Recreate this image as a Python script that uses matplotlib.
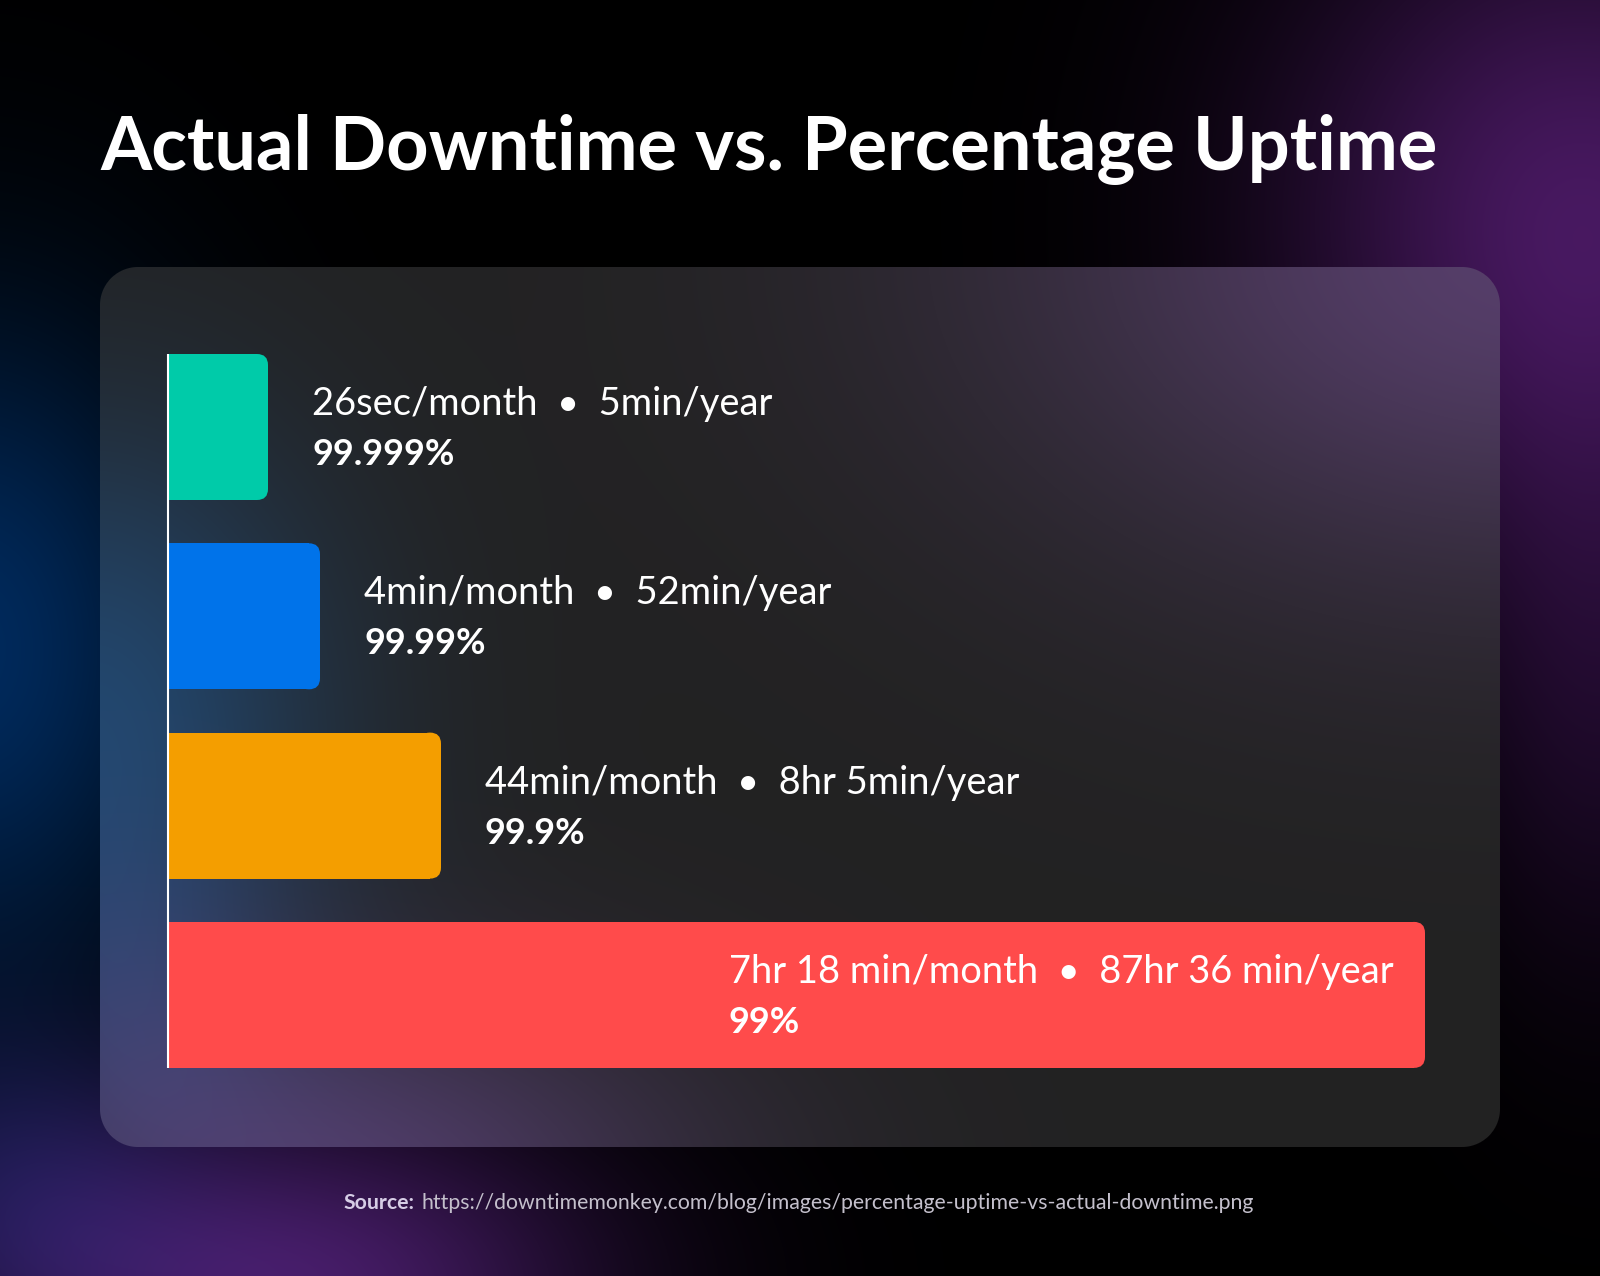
import numpy as np
import matplotlib
matplotlib.use("Agg")
import matplotlib.pyplot as plt
from matplotlib.patches import FancyBboxPatch

# ---------------- data ----------------
title = "Actual Downtime vs. Percentage Uptime"
uptime_labels = ["99.999%", "99.99%", "99.9%", "99%"]
downtime_labels = [
    "26sec/month  \u2022  5min/year",
    "4min/month  \u2022  52min/year",
    "44min/month  \u2022  8hr 5min/year",
    "7hr 18 min/month  \u2022  87hr 36 min/year",
]
bar_lengths = [99, 151, 272, 1256]          # visual bar lengths
bar_colors = ["#00CBA9", "#0073EA", "#F49E00", "#FF4B4B"]
label_inside = [False, False, False, True]
source_bold = "Source:"
source_url = "https://downtimemonkey.com/blog/images/percentage-uptime-vs-actual-downtime.png"

# ---------------- figure ----------------
W, H, DPI = 1600, 1276, 100
fig = plt.figure(figsize=(W / DPI, H / DPI), dpi=DPI)
fig.patch.set_facecolor("black")

# background + card image
yy, xx = np.mgrid[0:H, 0:W].astype(float)


def glow(cx, cy, rx, ry, color):
    d2 = ((xx - cx) / rx) ** 2 + ((yy - cy) / ry) ** 2
    return np.exp(-d2)[..., None] * (np.array(color, float) / 255.0)


bg = np.zeros((H, W, 3))
bg += glow(1580, 220, 300, 330, (70, 24, 94))
bg += glow(1600, 700, 150, 300, (25, 8, 35))
bg += glow(300, 1290, 300, 180, (70, 28, 102))
bg += glow(-30, 650, 230, 330, (0, 42, 92))
bg += glow(0, 1200, 200, 180, (18, 18, 55))
bg = np.clip(bg, 0, 1)

card = np.ones((H, W, 3)) * (34 / 255.0)
card += glow(1540, 250, 520, 330, (52, 28, 72))
card += glow(330, 1190, 360, 200, (46, 26, 70))
card += glow(90, 720, 240, 300, (0, 36, 74))
card += glow(120, 1000, 160, 180, (12, 12, 30))
card = np.clip(card, 0, 1)

cx0, cx1, cy0, cy1, cr = 100, 1500, 267, 1147, 38
ccx, ccy = (cx0 + cx1) / 2, (cy0 + cy1) / 2
hx, hy = (cx1 - cx0) / 2 - cr, (cy1 - cy0) / 2 - cr
qx = np.abs(xx + 0.5 - ccx) - hx
qy = np.abs(yy + 0.5 - ccy) - hy
sd = np.sqrt(np.maximum(qx, 0) ** 2 + np.maximum(qy, 0) ** 2) + np.minimum(np.maximum(qx, qy), 0) - cr
alpha = np.clip(0.5 - sd, 0, 1)[..., None]
img = bg * (1 - alpha) + card * alpha

ax_bg = fig.add_axes([0, 0, 1, 1])
ax_bg.imshow(img, extent=(0, W, H, 0), interpolation="bilinear")
ax_bg.set_xlim(0, W)
ax_bg.set_ylim(H, 0)
ax_bg.axis("off")

# ---------------- bar axes (1 data unit = 1 pixel) ----------------
AX_L, AX_T, AX_W, AX_H = 169, 340, 1331, 740
ax = fig.add_axes([AX_L / W, 1 - (AX_T + AX_H) / H, AX_W / W, AX_H / H])
ax.set_xlim(0, AX_W)
ax.set_ylim(AX_H, 0)
ax.axis("off")
ax.patch.set_alpha(0)

ypos = 87 + 189.3 * np.arange(len(bar_lengths))
bar_h = 146
r = 11
bars = ax.barh(ypos, bar_lengths, height=bar_h, color=bar_colors, linewidth=0, zorder=2)
for b, L, c in zip(bars, bar_lengths, bar_colors):
    b.set_width(L - r)
    y0 = b.get_y()
    ax.add_patch(FancyBboxPatch((L - 2 * r, y0), 2 * r, bar_h,
                                boxstyle=f"round,pad=0,rounding_size={r}",
                                facecolor=c, edgecolor="none", zorder=2))

ax.plot([-1.5, -1.5], [ypos[0] - bar_h / 2, ypos[-1] + bar_h / 2], color="white", lw=1.5,
        zorder=3, solid_capstyle="butt", clip_on=False)

renderer = fig.canvas.get_renderer()


def fit(t, target):
    w = t.get_window_extent(renderer=renderer).width
    t.set_fontsize(t.get_fontsize() * target / w)
    return t.get_fontsize()


# label sizes
probe = ax.text(0, 0, downtime_labels[0], fontsize=30, family="Lato")
fs1 = fit(probe, 461)
probe.remove()
probe = ax.text(0, 0, uptime_labels[0], fontsize=30, family="Lato", fontweight="bold")
fs2 = fit(probe, 142)
probe.remove()

for i, (L, y) in enumerate(zip(bar_lengths, ypos)):
    x = 560 if label_inside[i] else L + 44
    ax.text(x, y - 12, downtime_labels[i], fontsize=fs1, family="Lato", color="white",
            ha="left", va="baseline", zorder=4)
    ax.text(x, y + 38, uptime_labels[i], fontsize=fs2, family="Lato", fontweight="bold",
            color="white", ha="left", va="baseline", zorder=4)

# title
tt = fig.text(100 / W, 1 - 170 / H, title, fontsize=50, family="Lato", fontweight="bold",
              color="white", ha="left", va="baseline")
fit(tt, 1339)

# source
sb = fig.text(0, 0, source_bold, fontsize=14, family="Lato", fontweight="bold",
              color="#d6cde6", ha="left", va="baseline")
su = fig.text(0, 0, source_url, fontsize=14, family="Lato", color="#c4c0cc",
              ha="left", va="baseline")
w1 = sb.get_window_extent(renderer=renderer).width
w2 = su.get_window_extent(renderer=renderer).width
gap = 6
scale = 913 / (w1 + w2 + gap)
sb.set_fontsize(14 * scale)
su.set_fontsize(14 * scale)
w1 *= scale
w2 *= scale
gap *= scale
start = 800 - (w1 + gap + w2) / 2
sb.set_position((start / W, 1 - 1209 / H))
su.set_position(((start + w1 + gap) / W, 1 - 1209 / H))

fig.savefig("out.png", dpi=DPI, facecolor="black")
